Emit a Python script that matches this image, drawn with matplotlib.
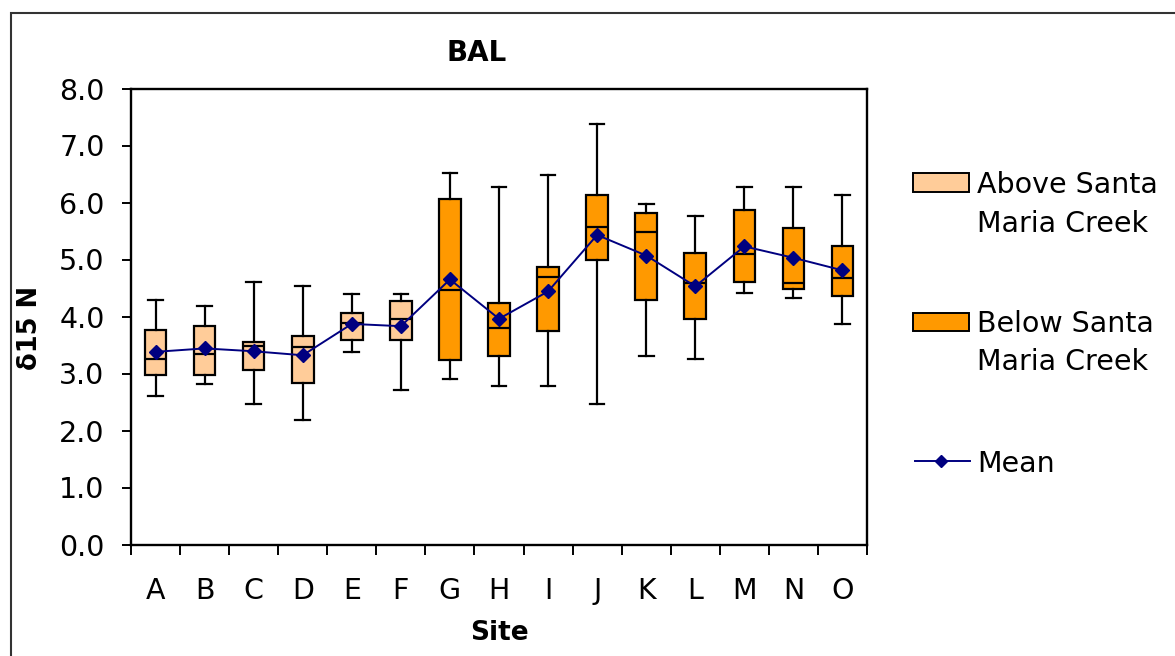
import numpy as np
import matplotlib
matplotlib.use("Agg")
import matplotlib.pyplot as plt
from matplotlib.patches import Rectangle
from matplotlib.lines import Line2D

plt.rcParams['font.family'] = ['DejaVu Sans']

# ---- data -------------------------------------------------------------
sites = ["A", "B", "C", "D", "E", "F", "G", "H", "I", "J", "K", "L", "M", "N", "O"]
above_sites = ["A", "B", "C", "D", "E", "F"]          # above Santa Maria Creek

whisker_low = [2.60, 2.81, 2.46, 2.18, 3.37, 2.71, 2.91, 2.78, 2.78, 2.46, 3.30, 3.26, 4.42, 4.32, 3.87]
quartile1   = [2.98, 2.98, 3.06, 2.84, 3.58, 3.58, 3.23, 3.30, 3.75, 5.00, 4.29, 3.96, 4.60, 4.49, 4.36]
median      = [3.26, 3.35, 3.48, 3.47, 3.88, 3.96, 4.46, 3.79, 4.69, 5.57, 5.48, 4.58, 5.09, 4.59, 4.67]
quartile3   = [3.76, 3.83, 3.55, 3.65, 4.07, 4.27, 6.06, 4.23, 4.87, 6.13, 5.82, 5.12, 5.86, 5.55, 5.23]
whisker_high = [4.29, 4.18, 4.60, 4.53, 4.39, 4.39, 6.52, 6.28, 6.49, 7.37, 5.97, 5.76, 6.28, 6.28, 6.14]
mean        = [3.38, 3.44, 3.39, 3.32, 3.87, 3.83, 4.65, 3.96, 4.44, 5.43, 5.07, 4.53, 5.23, 5.03, 4.81]

y_ticks = [0, 1, 2, 3, 4, 5, 6, 7, 8]

# ---- styling ----------------------------------------------------------
W, H, DPI = 1175, 656, 100
COL_ABOVE = "#FFCC99"
COL_BELOW = "#FF9900"
COL_MEAN = "#000080"
EDGE_LW = 1.6


def fx(px):
    return px / W


def fy(py):
    return 1 - py / H


fig = plt.figure(figsize=(W / DPI, H / DPI), dpi=DPI)
fig.patch.set_facecolor("white")

# plot area
ax = fig.add_axes([fx(131), fy(544.5), fx(867) - fx(131), fy(88.5) - fy(544.5)])

positions = np.arange(len(sites))
stats = []
for i, s in enumerate(sites):
    stats.append(dict(label=s, whislo=whisker_low[i], q1=quartile1[i], med=median[i],
                      q3=quartile3[i], whishi=whisker_high[i], mean=mean[i]))

bp = ax.bxp(stats, positions=positions, widths=0.44, capwidths=0.3,
            patch_artist=True, showmeans=False, showfliers=False,
            boxprops=dict(linewidth=EDGE_LW, edgecolor="black"),
            medianprops=dict(linewidth=EDGE_LW, color="black"),
            whiskerprops=dict(linewidth=EDGE_LW, color="black"),
            capprops=dict(linewidth=EDGE_LW, color="black"),
            zorder=2)
for s, box in zip(sites, bp["boxes"]):
    box.set_facecolor(COL_ABOVE if s in above_sites else COL_BELOW)

ax.plot(positions, mean, color=COL_MEAN, linewidth=1.4, marker="D",
        markersize=7.5, markerfacecolor=COL_MEAN, markeredgecolor=COL_MEAN,
        zorder=4)

# axes limits & ticks
ax.set_xlim(-0.5, len(sites) - 0.5)
ax.set_ylim(0, 8)
ax.set_yticks(y_ticks)
ax.set_yticklabels([f"{v:.1f}" for v in y_ticks])
ax.set_xticks(np.arange(-0.5, len(sites), 1.0))
ax.set_xticklabels([])
ax.set_xticks(positions, minor=True)
ax.set_xticklabels(sites, minor=True)
ax.tick_params(axis="x", which="major", direction="out", length=7, width=1.4, color="black")
ax.tick_params(axis="x", which="minor", length=0, pad=23.5, labelsize=20.5)
ax.tick_params(axis="y", direction="out", length=6.5, width=1.4, pad=12.5,
               labelsize=20.5, color="black")
for sp in ax.spines.values():
    sp.set_linewidth(1.7)
    sp.set_color("black")

# titles & axis labels
fig.text(fx(477), fy(61), "BAL", ha="center", va="baseline",
         fontsize=20, fontweight="bold")
fig.text(fx(499), fy(640), "Site", ha="center", va="baseline",
         fontsize=19, fontweight="bold")
fig.text(fx(30), fy(328), "δ15 N", ha="center", va="center", rotation=90,
         fontsize=18.5, fontweight="bold")

# legend
fig.add_artist(Rectangle((fx(913), fy(192)), fx(56), 19 / H, transform=fig.transFigure,
                         facecolor=COL_ABOVE, edgecolor="black", linewidth=1.4))
fig.add_artist(Rectangle((fx(913), fy(331)), fx(56), 18 / H, transform=fig.transFigure,
                         facecolor=COL_BELOW, edgecolor="black", linewidth=1.4))
fig.add_artist(Line2D([fx(915), fx(970)], [fy(460.5), fy(460.5)], transform=fig.transFigure,
                      color=COL_MEAN, linewidth=1.4))
fig.add_artist(Line2D([fx(941)], [fy(460.5)], transform=fig.transFigure, marker="D",
                      markersize=6, color=COL_MEAN, linestyle="none"))
legend_lines = [("Above Santa", 193), ("Maria Creek", 232),
                ("Below Santa", 332), ("Maria Creek", 370),
                ("Mean", 472)]
for txt, base in legend_lines:
    fig.text(fx(977), fy(base), txt, ha="left", va="baseline", fontsize=20.5)

# outer chart frame (extends past the right and bottom edges)
fig.add_artist(Rectangle((fx(11), fy(800)), fx(1400), 787 / H, transform=fig.transFigure,
                         facecolor="none", edgecolor="#333333", linewidth=1.5,
                         clip_on=False))

fig.savefig("out.png", dpi=DPI)
